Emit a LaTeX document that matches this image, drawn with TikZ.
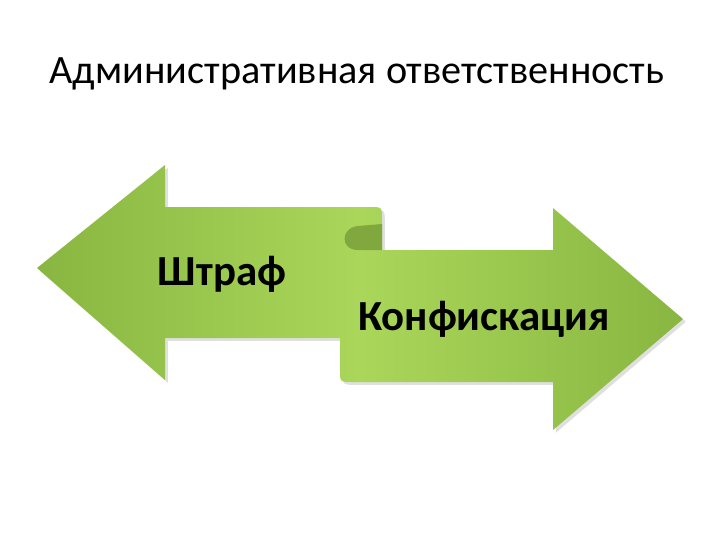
\documentclass[tikz,border=0pt]{standalone}
\usepackage{fontspec}
\setmainfont{Carlito}
\definecolor{leafgreen}{RGB}{170,214,90}
\definecolor{leafdark}{RGB}{136,182,64}
\definecolor{folddark}{RGB}{128,168,62}
\usetikzlibrary{shadows}

\tikzset{
  bandshape/.style={left color=leafdark,right color=leafdark,middle color=leafgreen,
    drop shadow={opacity=0.25,shadow xshift=2pt,shadow yshift=-2pt}},
  bandtext/.style={font=\bfseries\fontsize{30.5}{36}\selectfont,text=black,anchor=base},
}

\begin{document}
\begin{tikzpicture}[x=0.025cm,y=-0.025cm]
    \useasboundingbox (0,0) rectangle (720,540);
    \node[font=\fontsize{28.6}{34}\selectfont,anchor=base] (title) at (357,83) {Административная ответственность};

    % two arrows joined in one band
    \path[bandshape] (37,268) -- (165,165) -- (165,207) -- (370,207) .. controls (382,207) .. (382,219)
        -- (382,250) -- (553,250) -- (553,208) -- (683,319) -- (553,430) -- (553,382)
        -- (352,382) .. controls (340,382) .. (340,370) -- (340,338) -- (165,338) -- (165,380) -- cycle;
    \fill[folddark] (382,224) -- (358,226) .. controls (340,228) and (340,250) .. (358,250) -- (382,250) -- cycle;

    \node[bandtext] (fine) at (222,285) {Штраф};
    \node[bandtext] (confisc) at (484,330) {Конфискация};
\end{tikzpicture}
\end{document}
